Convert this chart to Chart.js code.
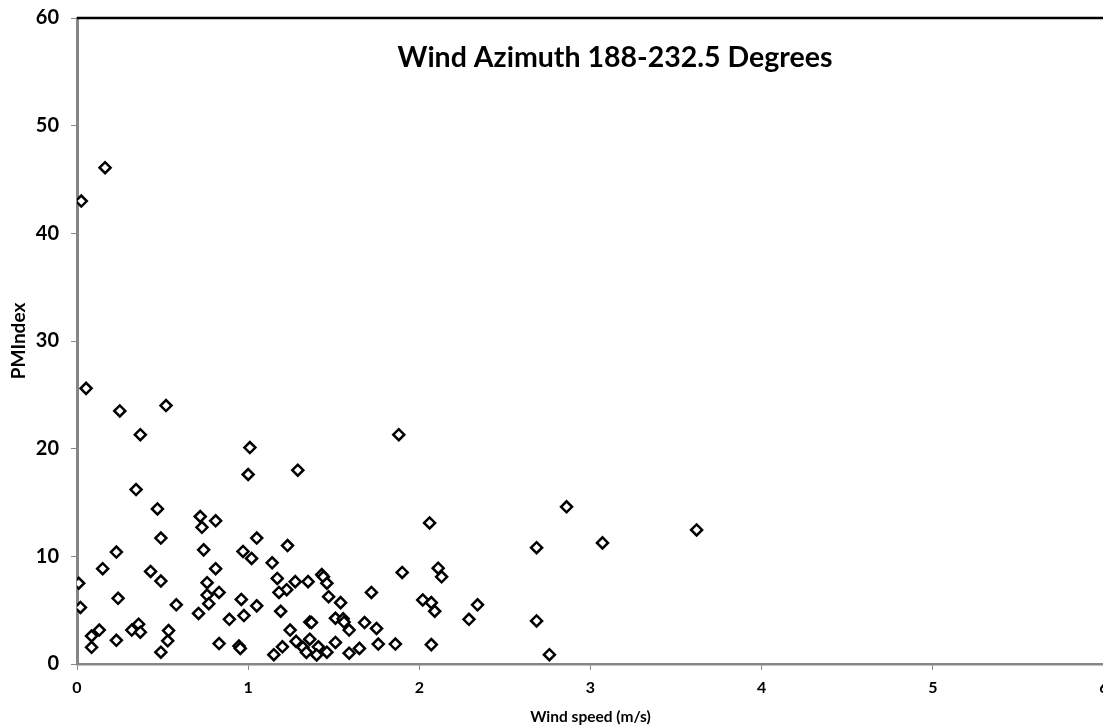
<!DOCTYPE html>
<html>
<head>
<meta charset="utf-8">
<script src="https://cdn.jsdelivr.net/npm/chart.js@4"></script>
<style>
  html, body { margin: 0; padding: 0; background: #fff; overflow: hidden; }
  #wrap { width: 1140px; height: 728px; }
</style>
</head>
<body>
<div id="wrap"><canvas id="scatter"></canvas></div>
<script>
const windSpeed = [
  0.025, 0.164, 0.053, 0.25, 0.52, 0.37, 1.01, 1.00, 1.29, 1.88,
  0.345, 0.47, 0.72, 0.73, 0.81, 0.49, 1.05, 1.23, 0.23, 0.74,
  0.97, 1.02, 1.14, 0.15, 0.43, 0.49, 0.81, 0.01, 0.76, 1.17,
  1.275, 1.35, 1.225, 1.18, 0.76, 0.83, 0.77, 0.24, 0.58, 0.02,
  0.71, 0.96, 1.05, 0.975, 1.19, 0.89, 1.36, 0.36, 0.32, 0.37,
  0.13, 0.085, 0.085, 0.23, 0.535, 0.53, 0.49, 0.83, 0.946, 0.954,
  1.15, 1.2, 1.245, 1.28, 1.32, 1.34, 2.06, 2.685, 1.90, 2.11,
  2.13, 1.43, 1.44, 1.46, 1.47, 1.54, 1.72, 2.02, 2.07, 2.09,
  2.34, 2.29, 2.685, 1.37, 1.51, 1.555, 1.56, 1.59, 1.68, 1.75,
  1.36, 1.41, 1.40, 1.46, 1.51, 1.59, 1.65, 1.76, 1.86, 2.07,
  2.86, 3.07, 3.62, 2.76
];
const pmIndex = [
  43.0, 46.1, 25.6, 23.5, 24.0, 21.3, 20.1, 17.6, 18.0, 21.3,
  16.2, 14.4, 13.7, 12.7, 13.3, 11.7, 11.7, 11.0, 10.4, 10.6,
  10.45, 9.8, 9.4, 8.85, 8.6, 7.7, 8.85, 7.5, 7.55, 7.95,
  7.65, 7.65, 6.9, 6.65, 6.4, 6.65, 5.6, 6.1, 5.5, 5.25,
  4.7, 6.0, 5.4, 4.5, 4.9, 4.15, 3.9, 3.7, 3.15, 2.95,
  3.15, 2.6, 1.55, 2.2, 3.1, 2.15, 1.1, 1.9, 1.67, 1.45,
  0.86, 1.6, 3.15, 2.1, 1.55, 1.08, 13.1, 10.8, 8.5, 8.9,
  8.1, 8.3, 8.1, 7.5, 6.25, 5.7, 6.65, 5.95, 5.7, 4.9,
  5.5, 4.15, 4.0, 3.85, 4.25, 4.2, 3.9, 3.15, 3.85, 3.3,
  2.3, 1.6, 0.84, 1.1, 2.0, 1.0, 1.45, 1.85, 1.85, 1.8,
  14.6, 11.25, 12.45, 0.86
];
const xTicks = [0, 1, 2, 3, 4, 5, 6];
const yTicks = [0, 10, 20, 30, 40, 50, 60];
const chartTitle = 'Wind Azimuth 188-232.5 Degrees';

const axisGray = '#868686';
const fontFamily = 'Lato, Calibri, "Open Sans", sans-serif';

// title sits inside the plot area, plus the black top border
const framePlugin = {
  id: 'frame',
  afterDraw(chart) {
    const { ctx, chartArea } = chart;
    ctx.save();
    ctx.strokeStyle = '#000';
    ctx.lineWidth = 2.5;
    ctx.beginPath();
    ctx.moveTo(chartArea.left, chartArea.top);
    ctx.lineTo(chartArea.right, chartArea.top);
    ctx.stroke();

    ctx.fillStyle = '#000';
    ctx.font = 'bold 28.5px ' + fontFamily;
    ctx.textAlign = 'center';
    ctx.textBaseline = 'middle';
    ctx.fillText(chartTitle, chartArea.left + 538, chartArea.top + 40);
    ctx.restore();
  }
};

const points = windSpeed.map((x, i) => ({ x, y: pmIndex[i] }));

new Chart(document.getElementById('scatter'), {
  type: 'scatter',
  data: {
    datasets: [{
      data: points,
      pointStyle: 'rectRot',
      pointRadius: 5.5,
      pointBorderWidth: 2.5,
      pointBorderColor: '#000',
      pointBackgroundColor: '#fff',
      pointHoverRadius: 5.5
    }]
  },
  options: {
    responsive: true,
    maintainAspectRatio: false,
    animation: false,
    layout: { padding: { top: 18, right: 36, bottom: 0, left: 0 } },
    plugins: {
      legend: { display: false },
      tooltip: { enabled: false },
      title: { display: false }
    },
    scales: {
      x: {
        type: 'linear',
        min: 0,
        max: 6,
        afterFit(scale) {
          scale.height = 64;
          scale.paddingLeft = 0;
          scale.paddingRight = 0;
        },
        afterBuildTicks(scale) { scale.ticks = xTicks.map(v => ({ value: v })); },
        border: { color: axisGray, width: 2.5 },
        grid: { drawOnChartArea: false, drawTicks: true, tickLength: 6, color: axisGray },
        ticks: { color: '#000', padding: 8, maxRotation: 0, font: { family: fontFamily, size: 16, weight: 'bold' } },
        title: {
          display: true,
          text: 'Wind speed (m/s)',
          color: '#000',
          padding: { top: 0, bottom: 2 },
          font: { family: fontFamily, size: 15.5, weight: 'bold' }
        }
      },
      y: {
        min: 0,
        max: 60,
        afterFit(scale) {
          scale.width = 77;
          scale.paddingTop = 0;
          scale.paddingBottom = 0;
        },
        afterBuildTicks(scale) { scale.ticks = yTicks.map(v => ({ value: v })); },
        border: { color: axisGray, width: 3 },
        grid: { drawOnChartArea: false, drawTicks: true, tickLength: 6, color: axisGray },
        ticks: { color: '#000', padding: 12, font: { family: fontFamily, size: 20, weight: 'bold' } },
        title: {
          display: true,
          text: 'PMIndex',
          color: '#000',
          padding: { top: 7, bottom: 0 },
          font: { family: fontFamily, size: 19, weight: 'bold' }
        }
      }
    }
  },
  plugins: [framePlugin]
});
</script>
</body>
</html>
